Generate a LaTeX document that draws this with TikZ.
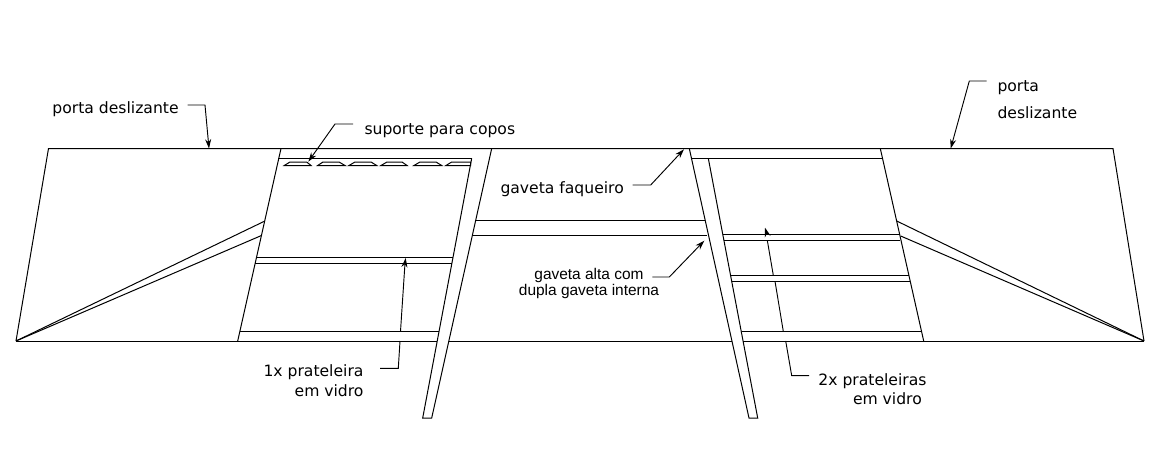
\documentclass[tikz,border=0pt]{standalone}
\usepackage{fontspec}
\setmainfont{DejaVu Sans}
\newfontfamily\arialfont{Liberation Sans}
\usetikzlibrary{arrows.meta}
\tikzset{every picture/.style={line width=0.75pt},
        edge line/.style={draw=black, line width=0.75pt},
        leader/.style={draw=black, line width=0.7pt},
        tipped/.style={leader, -{Stealth[length=7pt, width=4.5pt]}},
        label text/.style={inner sep=0pt, font=\fontsize{11.7pt}{14pt}\selectfont, text=black},
        small text/.style={inner sep=0pt, font=\arialfont\fontsize{11.6pt}{12pt}\selectfont, text=black, align=center},
        cup/.style={edge line},
}
\begin{document}
\begin{tikzpicture}[x=0.75pt, y=-0.75pt]
  \useasboundingbox (0,0) rectangle (1158,457);
  % OUTLINE
  \coordinate (tl) at (48.5,148.5);
  \coordinate (tr) at (1113,148.5);
  \coordinate (bl) at (16,341);
  \coordinate (br) at (1144,341);
  \draw[edge line] (bl) -- (tl) -- (tr) -- (br);
  \draw[edge line] (bl) -- (437,341);
  \draw[edge line] (448.5,341) -- (732,341);
  \draw[edge line] (743,341) -- (br);
  % LEFT CABINET
  \draw[edge line] (281,148.5) -- (237.7,341);
  \draw[edge line] (278.3,158.3) -- (471.7,158.3);
  \draw[edge line] (256,257.3) -- (452.7,257.3);
  \draw[edge line] (254.7,263.3) -- (451.7,263.3);
  \draw[edge line] (240,331.3) -- (438.7,331.3);
  \draw[edge line] (bl) -- (264.3,221.3);
  \draw[edge line] (bl) -- (261,235.7);
  % RIGHT CABINET
  \draw[edge line] (880.3,148.5) -- (923.7,341);
  \draw[edge line] (691.7,158.3) -- (881.7,158.3);
  \draw[edge line] (723.3,234.3) -- (899,234.3);
  \draw[edge line] (724.3,240.3) -- (900,240.3);
  \draw[edge line] (731,275.3) -- (908.7,275.3);
  \draw[edge line] (732.3,281.3) -- (910,281.3);
  \draw[edge line] (741.7,331.3) -- (921.3,331.3);
  \draw[edge line] (br) -- (896.7,221);
  \draw[edge line] (br) -- (900.7,236);
  % CENTRE DRAWERS
  \draw[edge line] (476,220) -- (705,220);
  \draw[edge line] (472.7,235.3) -- (707.3,235.3);
  % LEGS
  \draw[edge line] (491.7,148.5) -- (431.7,418) -- (422.7,418) -- (471.7,158.3);
  \draw[edge line] (689.3,148.5) -- (749,418) -- (757.7,418) -- (708.3,158.3);
  % CUP HOLDERS
  \foreach \xa/\xb/\xc/\xd in {284.3/290/306.7/311, 317.7/323/339/345, 349/355/371/376.7, 381/387/402/407, 414/420/436/441.7, 446/451.7/470.5/470.5}
    \draw[cup] (\xa,165.5) -- (\xb,162) -- (\xc,162) -- (\xd,165.5) -- cycle;
  % LABELS
  \node[label text, anchor=base west] (portaleft) at (52,113) {porta deslizante};
  \node[label text, anchor=base west] (suporte) at (364,134) {suporte para copos};
  \node[label text, anchor=base west] (faqueiro) at (500,193) {gaveta faqueiro};
  \node[small text, anchor=north] (alta) at (589,268) {gaveta alta com\\dupla gaveta interna};
  \node[label text, anchor=base west] (portaright1) at (997,91) {porta};
  \node[label text, anchor=base west] (portaright2) at (997,118) {deslizante};
  \node[label text, anchor=north east, align=right] (umax) at (364,364) {1x prateleira\\[1pt]em vidro};
  \node[label text, anchor=north east, align=right] (doisx) at (927,373) {2x prateleiras\\em vidro\rule{3.5pt}{0pt}};
  % LEADERS
  \draw[tipped] (187.7,105) -- (205,105) -- (209,148.5);
  \draw[tipped] (353,124) -- (335,124) -- (308.3,161.7);
  \draw[tipped] (632.7,185) -- (650.7,185) -- (684,149.3);
  \draw[tipped] (652.3,277) -- (669.3,277) -- (704.3,240.7);
  \draw[tipped] (986.7,81) -- (969.3,81) -- (950.7,148.5);
  \draw[tipped] (405,263) -- (405.7,258);
  \draw[leader] (405,263.3) -- (400.5,331.3);
  \draw[leader] (400,341) -- (398.3,368.3) -- (380,368.3);
  \draw[tipped] (767,234.3) -- (765,227.7);
  \draw[leader] (767.3,240.3) -- (773.3,275.3);
  \draw[leader] (775,281.3) -- (783.3,331.3);
  \draw[leader] (785.7,341) -- (791.7,375.7) -- (809,375.7);
\end{tikzpicture}
\end{document}
